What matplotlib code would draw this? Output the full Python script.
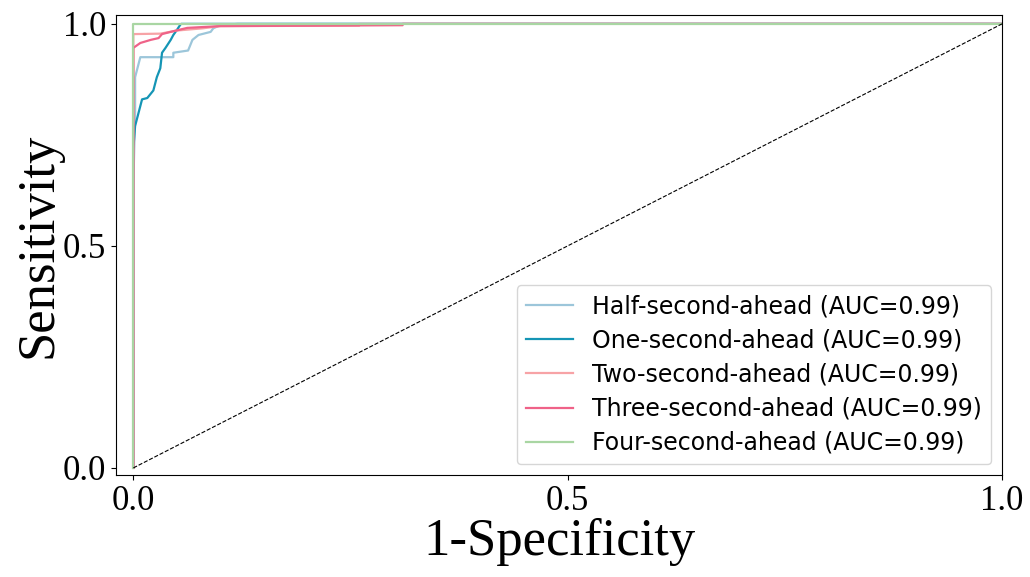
import matplotlib
matplotlib.use("Agg")
import matplotlib.pyplot as plt

labels = ["Half-second-ahead (AUC=0.99)", "One-second-ahead (AUC=0.99)",
          "Two-second-ahead (AUC=0.99)", "Three-second-ahead (AUC=0.99)",
          "Four-second-ahead (AUC=0.99)"]
colors = ["#9cc6da", "#1595b5", "#f7a3a6", "#ef6288", "#a9d6a3"]

half_fpr = [0.0, 0.0, 0.002, 0.002, 0.008, 0.046, 0.046, 0.063, 0.068, 0.075, 0.089, 0.092, 0.1, 0.12, 1.0]
half_tpr = [0.0, 0.64, 0.80, 0.88, 0.925, 0.925, 0.935, 0.94, 0.964, 0.975, 0.982, 0.99, 0.997, 1.0, 1.0]

one_fpr = [0.0, 0.0, 0.002, 0.006, 0.01, 0.016, 0.023, 0.027, 0.031, 0.033, 0.037, 0.043, 0.046, 0.05, 0.054, 0.055, 1.0]
one_tpr = [0.0, 0.72, 0.77, 0.80, 0.83, 0.833, 0.85, 0.88, 0.90, 0.935, 0.946, 0.964, 0.975, 0.986, 0.998, 1.0, 1.0]

two_fpr = [0.0, 0.0, 0.031, 0.05, 0.08, 0.1, 0.26, 0.26, 1.0]
two_tpr = [0.0, 0.977, 0.978, 0.985, 0.99, 0.995, 0.996, 1.0, 1.0]

three_fpr = [0.0, 0.0, 0.0, 0.008, 0.02, 0.029, 0.033, 0.043, 0.062, 0.1, 0.31, 0.31, 1.0]
three_tpr = [0.0, 0.926, 0.946, 0.957, 0.964, 0.968, 0.977, 0.982, 0.991, 0.995, 0.997, 1.0, 1.0]

four_fpr = [0.0, 0.0, 1.0]
four_tpr = [0.0, 1.0, 1.0]

diag = [0.0, 1.0]

fig = plt.figure(figsize=(10.30, 5.77), dpi=100)
ax = fig.add_axes([116/1030, 1 - 475/577, (1002 - 116)/1030, (475 - 15)/577])

series = [(half_fpr, half_tpr), (one_fpr, one_tpr), (two_fpr, two_tpr),
          (three_fpr, three_tpr), (four_fpr, four_tpr)]
for (fx, ty), lab, c in zip(series, labels, colors):
    ax.plot(fx, ty, color=c, lw=1.6, label=lab)
ax.plot(diag, diag, color="black", lw=0.8, ls="--")

ax.set_xlim(-0.02, 1.0)
ax.set_ylim(-0.016, 1.02)
ax.set_xticks([0.0, 0.5, 1.0])
ax.set_yticks([0.0, 0.5, 1.0])
serif = ["Liberation Serif", "DejaVu Serif"]
for t in ax.get_xticklabels() + ax.get_yticklabels():
    t.set_family(serif)
    t.set_fontsize(25)
ax.set_xlabel("1-Specificity", family=serif, fontsize=38, labelpad=0)
ax.set_ylabel("Sensitivity", family=serif, fontsize=38, labelpad=0)
ax.legend(loc="lower right", fontsize=17, frameon=True, labelspacing=0.43,
          borderaxespad=0.45)

fig.savefig("out.png", dpi=100)
